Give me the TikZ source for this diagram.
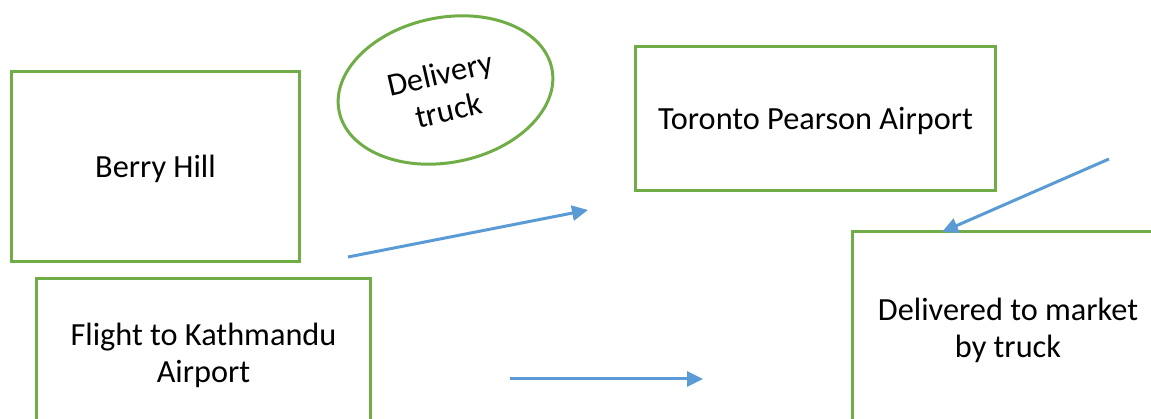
\documentclass[tikz,border=0pt]{standalone}
\usepackage{fontspec}
\setmainfont{Carlito}
\usetikzlibrary{shapes.geometric,arrows.meta}
\definecolor{boxgreen}{HTML}{70AD47}
\definecolor{arrblue}{HTML}{5B9BD5}
\tikzset{
  stagebox/.style={draw=boxgreen, line width=3pt, rectangle, inner sep=0pt},
  ovalbox/.style={draw=boxgreen, line width=3pt, ellipse, inner sep=0pt},
  lbl/.style={font=\fontsize{32.3}{37.5}\selectfont, align=center, inner sep=0pt, anchor=base},
  flow/.style={draw=arrblue, line width=3pt, -{Triangle[length=16pt,width=15pt]}}
}
\begin{document}
\begin{tikzpicture}[x=1pt,y=-1pt]
\useasboundingbox (0,0) rectangle (1151,419);
\clip (0,0) rectangle (1151,419);
\fill[white] (0,0) rectangle (1151,419);
% boxes
\node[stagebox, minimum width=288pt, minimum height=190pt] (berry) at (155.5,166.5) {};
\node[stagebox, minimum width=360pt, minimum height=144pt] (toronto) at (815.5,118.5) {};
\node[stagebox, minimum width=334pt, minimum height=300pt] (flight) at (203.5,429) {};
\node[stagebox, minimum width=400pt, minimum height=300pt] (market) at (1052,382) {};
\node[ovalbox, minimum width=217pt, minimum height=145pt, rotate=11.25] (truck) at (445.5,90) {};
% texts
\node[lbl] (berryT) at (155.5,178) {Berry Hill};
\node[lbl] (torontoT) at (815.5,130) {Toronto Pearson Airport};
\node[lbl] (flightT) at (203.5,383) {Flight to Kathmandu\\Airport};
\node[lbl] (marketT) at (1008,358) {Delivered to market\\by truck};
\node[lbl, rotate=13] (truckT) at (451,121) {Delivery\\truck};
% connectors
\coordinate (a1s) at (348,257);
\coordinate (a1e) at (588,210);
\coordinate (a2s) at (510,379);
\coordinate (a2e) at (703,379);
\coordinate (a3s) at (1109,159);
\coordinate (a3e) at (942,232);
\draw[flow] (a1s) -- (a1e);
\draw[flow] (a2s) -- (a2e);
\draw[flow] (a3s) -- (a3e);
\end{tikzpicture}
\end{document}
